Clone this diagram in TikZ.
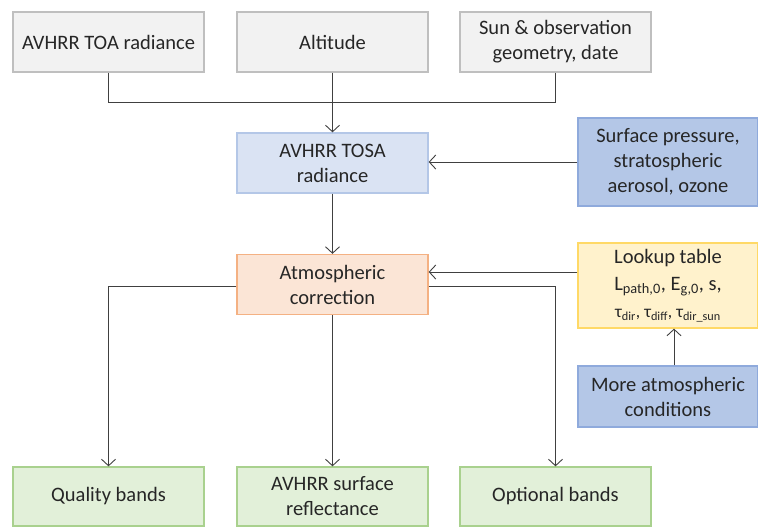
\documentclass[tikz,border=0pt]{standalone}
\usepackage{fontspec}
\setmainfont{Carlito}
\usetikzlibrary{arrows.meta}
\definecolor{linec}{HTML}{404040}
\definecolor{txt}{HTML}{262626}
\definecolor{gfill}{HTML}{F2F2F2}\definecolor{gdraw}{HTML}{BFBFBF}
\definecolor{lbfill}{HTML}{DAE3F3}\definecolor{lbdraw}{HTML}{B4C7E7}
\definecolor{dbfill}{HTML}{B4C7E7}\definecolor{dbdraw}{HTML}{8FAADC}
\definecolor{ofill}{HTML}{FBE5D6}\definecolor{odraw}{HTML}{F4B183}
\definecolor{yfill}{HTML}{FFF2CC}\definecolor{ydraw}{HTML}{FFD966}
\definecolor{grfill}{HTML}{E2F0D9}\definecolor{grdraw}{HTML}{A9D18E}
\tikzset{
  box/.style={rectangle, draw, line width=1.3pt, align=center, inner sep=1pt,
    text=txt, font=\fontsize{20.5}{25}\selectfont, minimum width=191pt, minimum height=60pt},
  graybox/.style={box, fill=gfill, draw=gdraw},
  lbluebox/.style={box, fill=lbfill, draw=lbdraw},
  dbluebox/.style={box, fill=dbfill, draw=dbdraw, minimum width=180pt},
  orangebox/.style={box, fill=ofill, draw=odraw},
  yellowbox/.style={box, fill=yfill, draw=ydraw, minimum width=180pt},
  greenbox/.style={box, fill=grfill, draw=grdraw},
  conn/.style={draw=linec, line width=0.9pt},
  arr/.style={conn, -{Straight Barb[length=6.5pt,width=14pt,line width=0.9pt]}},
}
\begin{document}
\begin{tikzpicture}[x=1pt,y=-1pt]
\useasboundingbox (0,0) rectangle (758,527);
\node[graybox] (toa) at (108.5,42) {AVHRR TOA radiance};
\node[graybox] (alt) at (332.5,42) {Altitude};
\node[graybox] (geo) at (555.5,42) {Sun \& observation\\geometry, date};
\node[lbluebox] (tosa) at (332.5,163) {AVHRR TOSA\\radiance};
\node[dbluebox, minimum height=88pt] (sp) at (668,162) {Surface pressure,\\stratospheric\\aerosol, ozone};
\node[orangebox] (atm) at (332.5,284.5) {Atmospheric\\correction};
\node[yellowbox, minimum height=85pt, font=\fontsize{20.5}{27}\selectfont] (lut) at (668,285.5) {Lookup table\\L\textsubscript{path,0}, E\textsubscript{g,0}, s,\\{\fontsize{17.5}{27}\selectfont τ\textsubscript{dir}, τ\textsubscript{diff}, τ\textsubscript{dir\_sun}}};
\node[dbluebox, minimum height=61pt] (more) at (668,396.5) {More atmospheric\\conditions};
\node[greenbox, minimum height=59pt] (qual) at (108.5,496.5) {Quality bands};
\node[greenbox, minimum height=59pt] (sr) at (332.5,496.5) {AVHRR surface\\reflectance};
\node[greenbox, minimum height=59pt] (opt) at (555.5,496.5) {Optional bands};
\coordinate (j) at (332.5,102);
\draw[conn] (toa.south) |- (j);
\draw[conn] (geo.south) |- (j);
\draw[arr] (alt.south) -- (tosa.north);
\draw[arr] (sp.west) -- (sp.west -| tosa.east);
\draw[arr] (tosa.south) -- (atm.north);
\draw[arr] ([yshift=13.5pt]lut.west) -- ([yshift=13.5pt]lut.west -| atm.east);
\draw[arr] ([xshift=6pt]more.north) -- ([xshift=6pt]lut.south);
\draw[arr] ([yshift=-1.5pt]atm.east) -| (opt.north);
\draw[arr] ([yshift=-1.5pt]atm.west) -| (qual.north);
\draw[arr] (atm.south) -- (sr.north);
\end{tikzpicture}
\end{document}
